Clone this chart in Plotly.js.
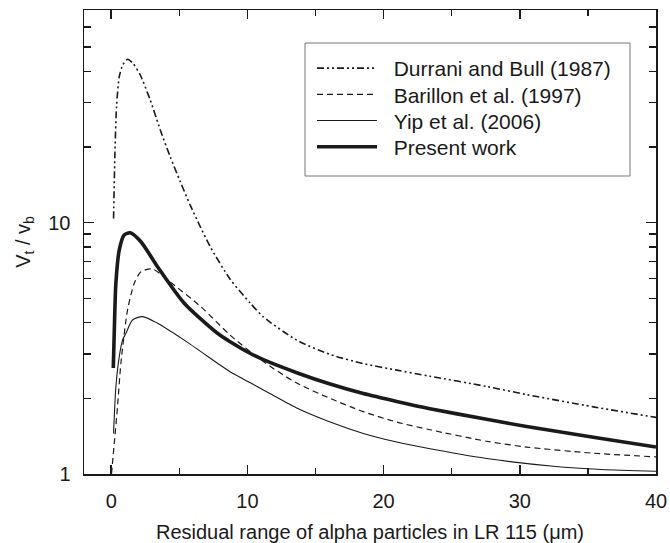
<!DOCTYPE html>
<html>
<head>
<meta charset="utf-8">
<script src="https://cdn.plot.ly/plotly-3.0.1.min.js"></script>
<style>html,body{margin:0;padding:0;background:#fff;}#chart{width:670px;height:543px;}</style>
</head>
<body>
<div id="chart"></div>
<script>
// Residual range (µm) and Vt/Vb values
const durraniX = [0.17, 0.27, 0.39, 0.59, 0.85, 1.2, 1.6, 2.13, 2.86, 3.6, 4.33, 5.06, 5.8, 6.53, 7.26, 8.73, 10.2, 11.17, 13.62, 16.07, 18.51, 20.96, 23.4, 27.56, 30.5, 35.4, 40];
const durraniY = [10.4, 18.9, 29, 38.1, 42.5, 44.7, 43, 38.7, 30.8, 23.4, 18.3, 14.6, 11.75, 9.66, 8.04, 5.96, 4.79, 4.22, 3.41, 2.99, 2.75, 2.59, 2.45, 2.23, 2.07, 1.85, 1.68];

const barillonX = [0.02, 0.22, 0.46, 0.71, 1.2, 1.69, 2.18, 3.03, 4.13, 6.58, 8.73, 11.17, 13.62, 16.07, 18.51, 20.96, 23.4, 27.56, 30.5, 35.4, 40];
const barillonY = [1.0, 1.32, 1.85, 2.76, 4.5, 5.74, 6.38, 6.54, 5.92, 4.63, 3.57, 2.8, 2.3, 2.0, 1.77, 1.61, 1.5, 1.35, 1.28, 1.21, 1.17];

const yipX = [0.17, 0.34, 0.59, 0.83, 1.08, 1.56, 2.3, 3.4, 5.36, 7.8, 8.73, 10.25, 11.17, 13.62, 16.07, 18.51, 20.96, 23.4, 27.56, 32.45, 36, 40];
const yipY = [1.45, 2.22, 2.93, 3.41, 3.63, 4.1, 4.23, 3.98, 3.41, 2.76, 2.55, 2.3, 2.16, 1.83, 1.61, 1.45, 1.34, 1.26, 1.153, 1.074, 1.042, 1.026];

const presentX = [0.15, 0.22, 0.34, 0.59, 0.95, 1.39, 2.18, 3.4, 5.36, 7.8, 8.73, 10.25, 11.17, 13.62, 16.07, 18.51, 20.96, 23.4, 27.56, 30.5, 35.4, 40];
const presentY = [2.64, 3.63, 5.74, 7.79, 8.93, 9.12, 8.4, 6.68, 4.78, 3.63, 3.36, 3.01, 2.85, 2.53, 2.28, 2.09, 1.945, 1.82, 1.65, 1.545, 1.4, 1.28];

const seriesNames = ["Durrani and Bull (1987)", "Barillon et al. (1997)", "Yip et al. (2006)", "Present work"];
const yTickVals = [1, 10];
const yMinorVals = [2, 3, 4, 5, 6, 7, 8, 9, 20, 30, 40, 50, 60, 70];

const FONT = "Liberation Sans, Arial, Helvetica, sans-serif";
const INK = "#1a1a1a";
const PAD = "&nbsp;&nbsp;";

const traces = [
  {x: durraniX, y: durraniY, name: PAD + seriesNames[0], mode: "lines", legend: "legend",
   line: {color: INK, width: 1.6, dash: "7px,3px,2px,3px,2px,3px", shape: "spline", smoothing: 0.7}},
  {x: barillonX, y: barillonY, name: PAD + seriesNames[1], mode: "lines", legend: "legend2",
   line: {color: INK, width: 1.2, dash: "6px,4px", shape: "spline", smoothing: 0.7}},
  {x: yipX, y: yipY, name: PAD + seriesNames[2], mode: "lines", legend: "legend3",
   line: {color: INK, width: 1.1, shape: "spline", smoothing: 0.7}},
  {x: presentX, y: presentY, name: PAD + seriesNames[3], mode: "lines", legend: "legend4",
   line: {color: INK, width: 3.6, shape: "spline", smoothing: 0.7}}
];

function legendAt(row) {
  const yc = 68.5 + row * 26.2; // pixel centre of the legend row
  return {
    x: (312 - 84) / 572, y: (474 - yc) / 464, xanchor: "left", yanchor: "middle",
    bgcolor: "rgba(0,0,0,0)", borderwidth: 0,
    font: {family: FONT, size: 21, color: INK}, itemwidth: 60
  };
}

const layout = {
  width: 670, height: 543,
  margin: {l: 84, r: 14, t: 10, b: 69},
  paper_bgcolor: "#fff", plot_bgcolor: "#fff",
  font: {family: FONT, size: 20, color: INK},
  showlegend: true,
  legend: legendAt(0), legend2: legendAt(1), legend3: legendAt(2), legend4: legendAt(3),
  shapes: [{type: "rect", xref: "paper", yref: "paper",
    x0: (305 - 84) / 572, x1: (630 - 84) / 572, y0: (474 - 176) / 464, y1: (474 - 43) / 464,
    line: {color: "#777", width: 1}, fillcolor: "rgba(0,0,0,0)", layer: "above"}],
  xaxis: {
    range: [-2, 40], tickmode: "linear", tick0: 0, dtick: 10,
    ticks: "inside", ticklen: 9, tickwidth: 1.6, tickcolor: INK,
    showline: true, linecolor: INK, linewidth: 1.5, mirror: "ticks",
    showgrid: false, zeroline: false, ticklabelstandoff: 8,
    minor: {tick0: 0, dtick: 5, ticks: "inside", ticklen: 6, tickwidth: 1.5, tickcolor: INK, showgrid: false},
    title: {text: "Residual range of alpha particles in LR 115 (\u03bcm)", font: {family: FONT, size: 20, color: INK}, standoff: 14}
  },
  yaxis: {
    type: "log", range: [0, Math.log10(70.2)], tickmode: "array", tickvals: yTickVals,
    ticktext: ["1", "10"],
    ticks: "inside", ticklen: 10, tickwidth: 1.4, tickcolor: INK,
    showline: true, linecolor: INK, linewidth: 1.5, mirror: "ticks",
    showgrid: false, zeroline: false, ticklabelstandoff: 8,
    minor: {tickmode: "array", tickvals: yMinorVals, ticks: "inside", ticklen: 7, tickwidth: 1.4, tickcolor: INK, showgrid: false},
    title: {text: "V<sub>t</sub> / v<sub>b</sub>", font: {family: FONT, size: 20, color: INK}, standoff: 12}
  }
};

Plotly.newPlot("chart", traces, layout, {staticPlot: true, displayModeBar: false});
</script>
</body>
</html>
